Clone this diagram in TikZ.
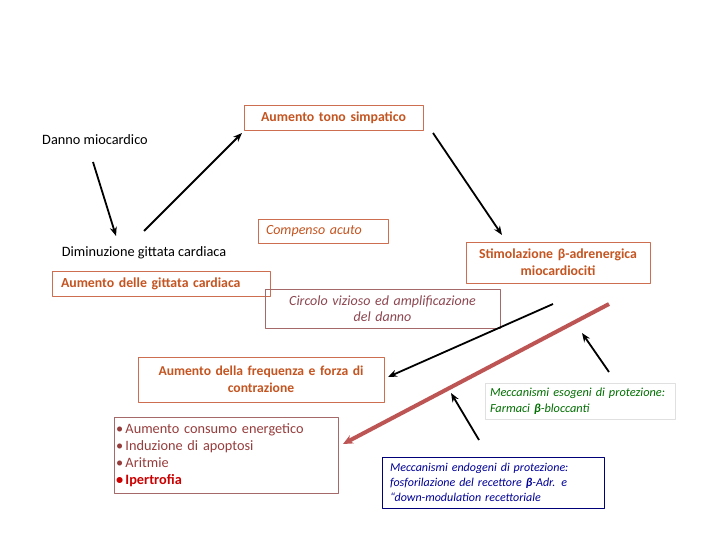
\documentclass[tikz,border=0pt]{standalone}
\usepackage{fontspec}
\setmainfont{Carlito}
\usetikzlibrary{arrows.meta}
\definecolor{textOrange}{RGB}{196,84,32}
\definecolor{boxOrange}{RGB}{205,110,80}
\definecolor{textBrown}{RGB}{140,70,80}
\definecolor{boxBrown}{RGB}{165,105,105}
\definecolor{listBrown}{RGB}{150,60,60}
\definecolor{lineRose}{RGB}{190,85,85}
\definecolor{darkGreen}{RGB}{0,110,0}
\definecolor{darkBlueText}{RGB}{0,0,150}
\definecolor{navyBox}{RGB}{0,0,120}

\begin{document}
\begin{tikzpicture}[
    x=1pt, y=-1pt,
    line join=round,
    every node/.style={font=\fontsize{14.3}{17}\selectfont},
    orangebox/.style={
        draw=boxOrange,
        line width=0.9pt,
        text=textOrange,
        inner xsep=4pt,
        inner ysep=2pt,
        align=center
    },
    plainlabel/.style={
        text=black
    },
    blackarrow/.style={
        draw=black,
        line width=1.8pt,
        -{Stealth[length=9pt,width=7pt]}
    }
]

    \useasboundingbox (0,0) rectangle (720,540);

    % boxes
    \node[orangebox, minimum height=25pt, text width=171pt, font=\fontsize{13.8}{17}\selectfont\bfseries]
        (tono) at (333.5,117.5) {Aumento tono simpatico};
    \node[plainlabel] (danno) at (95,140) {Danno miocardico};
    \node[orangebox, minimum height=24pt, text width=114pt, inner xsep=8pt, align=left,
        font=\fontsize{14}{17}\selectfont\itshape]
        (compenso) at (323,231) {Compenso acuto};
    \node[plainlabel] (diminuzione) at (144,253) {Diminuzione gittata cardiaca};
    \node[orangebox, minimum height=25pt, text width=200pt, inner xsep=9pt, align=left,
        font=\fontsize{13.8}{17}\selectfont\bfseries]
        (aumentoGC) at (161,283.5) {Aumento delle gittata cardiaca};
    \node[orangebox, minimum height=41pt, text width=176pt,
        font=\fontsize{13.8}{17}\selectfont\bfseries]
        (stimolazione) at (558,262.5) {Stimolazione β-adrenergica\\miocardiociti};
    \node[orangebox, draw=boxBrown, text=textBrown, minimum height=39pt, text width=227pt,
        font=\fontsize{14}{16}\selectfont\itshape]
        (circolo) at (382.5,308.5) {Circolo vizioso ed amplificazione\\del danno};
    \node[orangebox, minimum height=45pt, text width=238pt,
        font=\fontsize{13.6}{17}\selectfont\bfseries]
        (frequenza) at (261,379.5) {Aumento della frequenza e forza di\\contrazione};
    \node[orangebox, draw=boxBrown, text=listBrown, minimum height=76pt, text width=220pt,
        inner xsep=2pt, align=left, font=\fontsize{14.3}{17}\selectfont]
        (effetti) at (226,455) {•\,Aumento consumo energetico\\•\,Induzione di apoptosi\\•\,Aritmie\\
        \textcolor{red!80!black}{\bfseries •\,Ipertrofia}};
    \node[draw=black!12, line width=0.9pt, text=darkGreen, minimum height=36pt, text width=180pt,
        inner xsep=5pt, align=left, font=\fontsize{12.3}{16}\selectfont\itshape]
        (esogeni) at (580,401) {Meccanismi esogeni di protezione:\\Farmaci \textbf{β}-bloccanti};
    \node[draw=navyBox, line width=0.9pt, text=darkBlueText, minimum height=51pt, text width=206pt,
        inner xsep=8pt, align=left, font=\fontsize{12}{15}\selectfont\itshape]
        (endogeni) at (493,482.5) {Meccanismi endogeni di protezione:\\fosforilazione del recettore \textbf{β}-Adr. e\\“down-modulation recettoriale};

    % arrow ends
    \coordinate (d1) at (93,162);
    \coordinate (d2) at (116,236);
    \coordinate (g1) at (144,231);
    \coordinate (g2) at (242,133);
    \coordinate (s1) at (433,133);
    \coordinate (s2) at (502,235);
    \coordinate (c1) at (553,304);
    \coordinate (c2) at (388,377);
    \coordinate (r1) at (609,304);
    \coordinate (r2) at (343,444);
    \coordinate (e1) at (609,372);
    \coordinate (e2) at (582,333);
    \coordinate (n1) at (479,440);
    \coordinate (n2) at (451,393);

    \draw[blackarrow] (d1) -- (d2);
    \draw[blackarrow] (g1) -- (g2);
    \draw[blackarrow] (s1) -- (s2);
    \draw[blackarrow] (c1) -- (c2);
    \draw[blackarrow] (e1) -- (e2);
    \draw[blackarrow] (n1) -- (n2);
    \draw[lineRose, line width=4pt, -{Stealth[length=10pt,width=9pt]}] (r1) -- (r2);

\end{tikzpicture}
\end{document}
